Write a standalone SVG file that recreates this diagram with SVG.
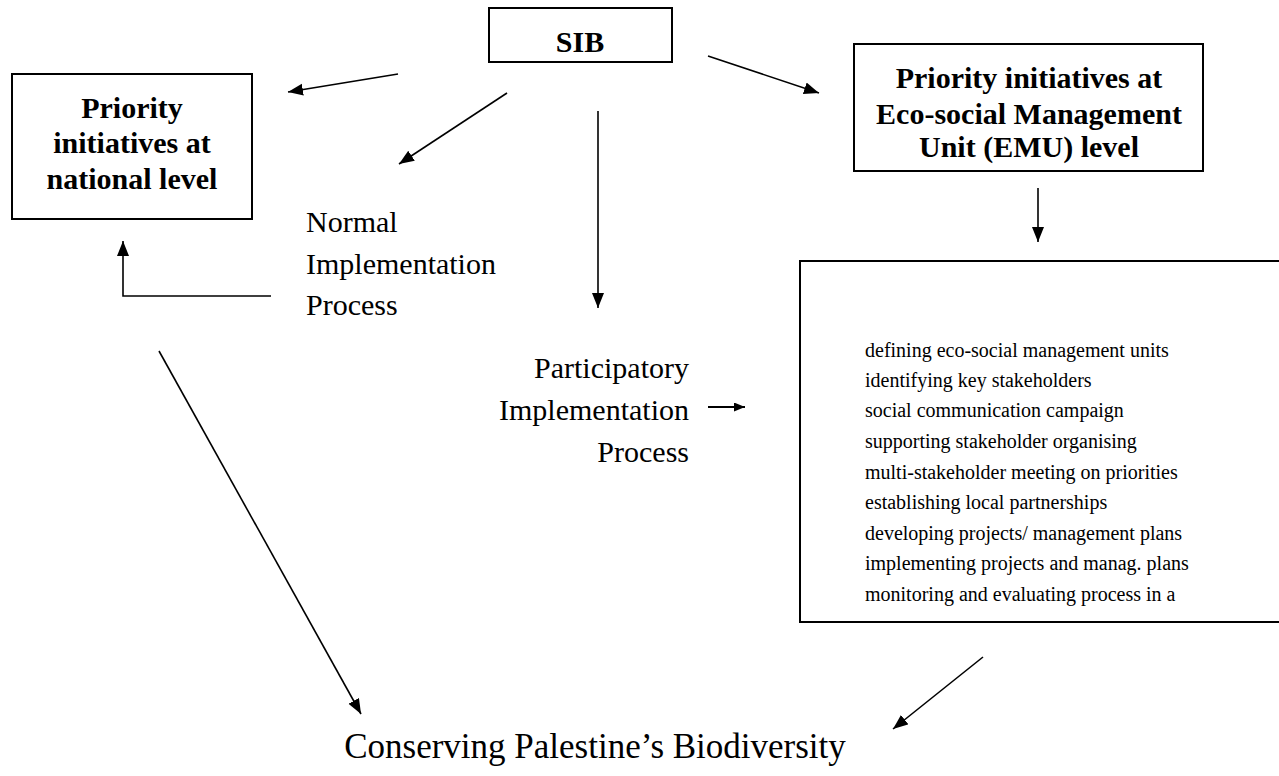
<svg xmlns="http://www.w3.org/2000/svg" width="1279" height="776" viewBox="0 0 1279 776">
<style>
.box{fill:#fff;stroke:#000;stroke-width:2}
.b{font-family:"Liberation Serif","Times New Roman",serif;font-weight:bold;font-size:30px;fill:#000;text-anchor:middle}
.r{font-family:"Liberation Serif","Times New Roman",serif;font-size:30px;fill:#000}
.s{font-family:"Liberation Serif","Times New Roman",serif;font-size:20px;fill:#000}
.c{stroke:#000;stroke-width:1.6;fill:none;marker-end:url(#ah)}
.cs{stroke:#000;stroke-width:1.8;fill:none;marker-end:url(#ahs)}
</style>
<defs>
<marker id="ah" markerUnits="userSpaceOnUse" markerWidth="16" markerHeight="14" refX="15" refY="6" orient="auto">
<path d="M0,0 L15,6 L0,12 z" fill="#000"/>
</marker>
<marker id="ahs" markerUnits="userSpaceOnUse" markerWidth="12" markerHeight="10" refX="11" refY="4.5" orient="auto">
<path d="M0,0 L11,4.5 L0,9 z" fill="#000"/>
</marker>
</defs>
<rect width="1279" height="776" fill="#fff"/>
<g id="sib">
<rect class="box" x="489" y="8" width="183" height="54"/>
<text class="b" x="580" y="52">SIB</text>
</g>
<g id="national">
<rect class="box" x="12" y="74" width="240" height="145"/>
<text class="b" x="132" y="118">Priority</text>
<text class="b" x="132" y="153">initiatives at</text>
<text class="b" x="132" y="189">national level</text>
</g>
<g id="emu">
<rect class="box" x="854" y="44" width="349" height="127"/>
<text class="b" x="1029" y="88">Priority initiatives at</text>
<text class="b" x="1029" y="124">Eco-social Management</text>
<text class="b" x="1029" y="157">Unit (EMU) level</text>
</g>
<g id="normal">
<text class="r" x="306" y="232">Normal</text>
<text class="r" x="306" y="274">Implementation</text>
<text class="r" x="306" y="315">Process</text>
</g>
<g id="participatory">
<text class="r" x="689" y="378" text-anchor="end">Participatory</text>
<text class="r" x="689" y="420" text-anchor="end">Implementation</text>
<text class="r" x="689" y="462" text-anchor="end">Process</text>
</g>
<g id="steps">
<rect class="box" x="800" y="261" width="490" height="361"/>
<text class="s" x="865" y="357">defining eco-social management units</text>
<text class="s" x="865" y="387">identifying key stakeholders</text>
<text class="s" x="865" y="417">social communication campaign</text>
<text class="s" x="865" y="448">supporting stakeholder organising</text>
<text class="s" x="865" y="479">multi-stakeholder meeting on priorities</text>
<text class="s" x="865" y="509">establishing local partnerships</text>
<text class="s" x="865" y="540">developing projects/ management plans</text>
<text class="s" x="865" y="570">implementing projects and manag. plans</text>
<text class="s" x="865" y="601">monitoring and evaluating process in a</text>
</g>
<g id="goal">
<text class="r" x="595" y="758" text-anchor="middle" style="font-size:35px">Conserving Palestine’s Biodiversity</text>
</g>
<g id="connectors">
<line class="c" x1="398" y1="74" x2="288" y2="92"/>
<line class="c" x1="507" y1="93" x2="399" y2="164"/>
<line class="c" x1="598" y1="111" x2="598" y2="308"/>
<line class="c" x1="708" y1="56" x2="819" y2="93"/>
<line class="c" x1="1038" y1="188" x2="1038" y2="242"/>
<polyline class="c" points="271,296 123,296 123,241"/>
<line class="cs" x1="708" y1="407" x2="745" y2="407"/>
<line class="c" x1="159" y1="351" x2="361" y2="714"/>
<line class="c" x1="983" y1="657" x2="893" y2="729"/>
</g>
</svg>
